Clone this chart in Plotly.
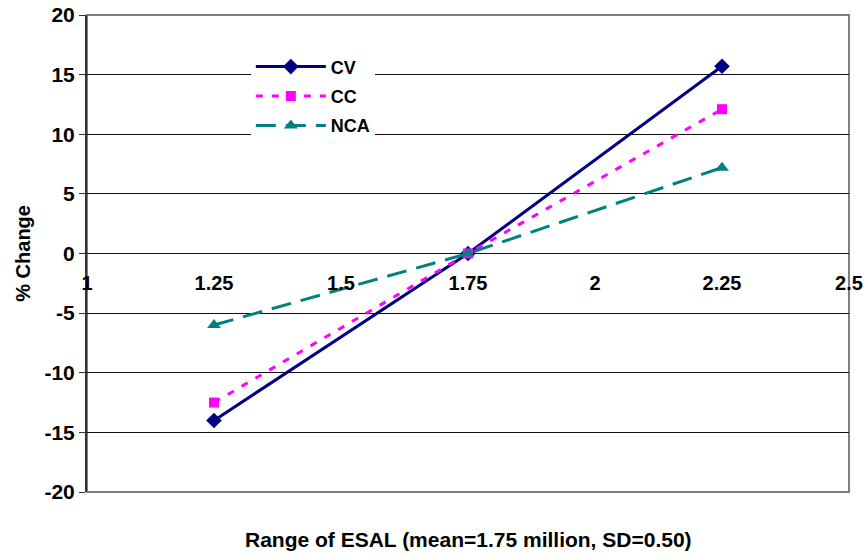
import plotly.graph_objects as go

# ESAL range values (million)
esal = [1.25, 1.75, 2.25]

# % change for each parameter
cv_change = [-14.0, 0.0, 15.7]
cc_change = [-12.5, 0.0, 12.1]
nca_change = [-6.0, 0.0, 7.2]

x_ticks = [1, 1.25, 1.5, 1.75, 2, 2.25, 2.5]
x_tick_text = ["1", "1.25", "1.5", "1.75", "2", "2.25", "2.5"]
y_ticks = [-20, -15, -10, -5, 0, 5, 10, 15, 20]
y_tick_text = ["-20", "-15", "-10", "-5", "0", "5", "10", "15", "20"]

FONT = "Arial, Liberation Sans, sans-serif"

fig = go.Figure()

fig.add_trace(go.Scatter(
    x=esal, y=cv_change, name="CV", mode="lines+markers", legendgroup="cv",
    line=dict(color="#000080", width=3, dash="solid"),
    marker=dict(symbol="diamond", size=12, color="#000080")
))
fig.add_trace(go.Scatter(
    x=esal, y=cc_change, name="CC", mode="lines+markers", legendgroup="cc",
    line=dict(color="#FF00FF", width=3, dash="7px,9px"),
    marker=dict(symbol="square", size=10, color="#FF00FF")
))
fig.add_trace(go.Scatter(
    x=esal, y=nca_change, name="NCA", mode="lines+markers", legendgroup="nca",
    line=dict(color="#008080", width=3, dash="20px,10px"),
    marker=dict(symbol="triangle-up", size=12, color="#008080")
))

# plot area border
fig.add_shape(type="rect", xref="paper", yref="paper", x0=0, x1=1, y0=0, y1=1,
              line=dict(color="#808080", width=2), layer="below")

fig.update_layout(
    width=868, height=557,
    paper_bgcolor="white", plot_bgcolor="white",
    margin=dict(l=87, r=19, t=15, b=65),
    font=dict(family=FONT, color="black"),
    showlegend=True,
    legend=dict(
        x=0.215, y=0.93, xanchor="left", yanchor="top",
        bgcolor="white", borderwidth=0,
        font=dict(size=18, weight="bold", family=FONT),
        itemwidth=70, tracegroupgap=3, traceorder="grouped",
    ),
    xaxis=dict(
        range=[1, 2.5], tickvals=x_ticks, ticktext=x_tick_text,
        anchor="free", position=0.5, side="bottom", automargin=False,
        showgrid=False, zeroline=False, showline=False, ticks="",
        ticklabelstandoff=15,
        tickfont=dict(size=20, weight="bold", family=FONT),
    ),
    yaxis=dict(
        range=[-20, 20], tickvals=y_ticks, ticktext=y_tick_text, automargin=False,
        showgrid=True, gridcolor="#111111", gridwidth=1.2,
        zeroline=True, zerolinecolor="#111111", zerolinewidth=1.2,
        showline=True, linecolor="#333333", linewidth=2,
        ticks="outside", ticklen=6, tickcolor="#333333",
        tickfont=dict(size=21, weight="bold", family=FONT),
    ),
    annotations=[
        dict(
            text="Range of ESAL (mean=1.75 million, SD=0.50)",
            xref="paper", yref="paper", x=0.5, y=-0.1, xanchor="center", yanchor="middle",
            showarrow=False, font=dict(size=21, weight="bold", family=FONT),
        ),
        dict(
            text="% Change", textangle=-90,
            xref="paper", yref="paper", x=-0.085, y=0.5, xanchor="center", yanchor="middle",
            showarrow=False, font=dict(size=20, weight="bold", family=FONT),
        ),
    ],
)

# drop the default page margin so the figure sits at the window's corner
fig.write_html("out.html", config={"displayModeBar": False},
               post_script="document.body.style.margin='0';")
